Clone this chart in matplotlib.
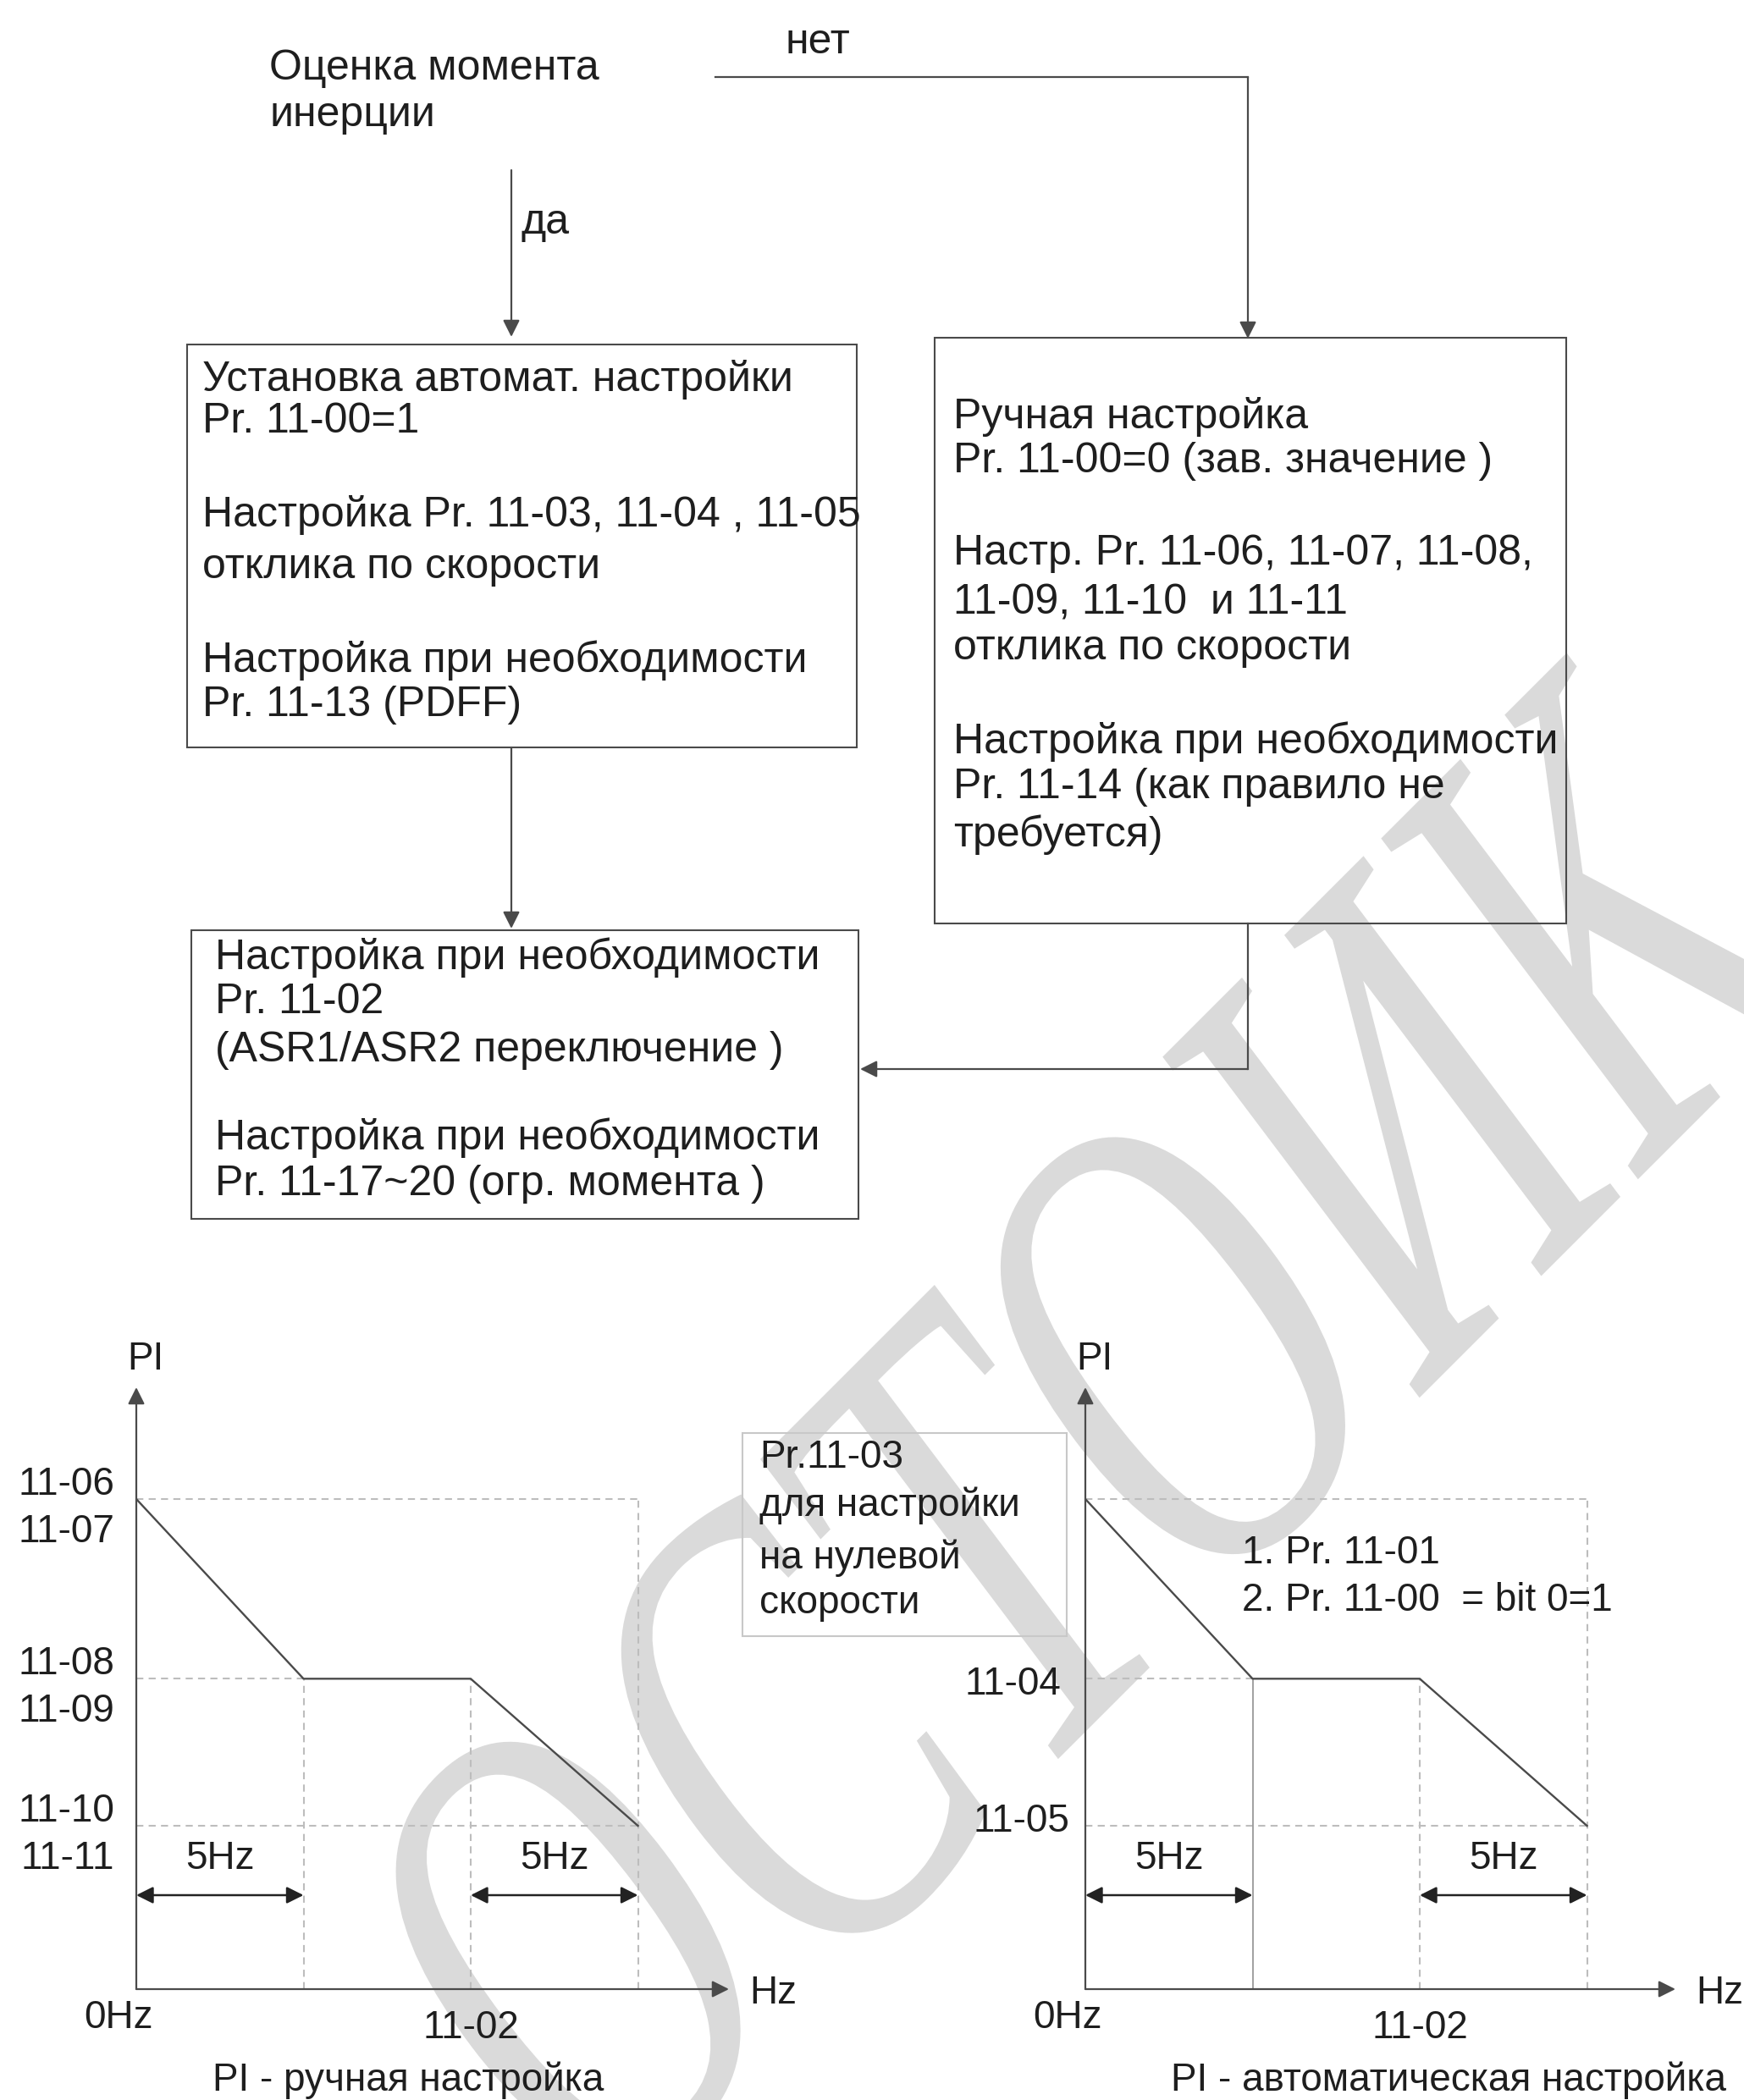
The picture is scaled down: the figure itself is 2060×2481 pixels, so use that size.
import matplotlib
matplotlib.use("Agg")
import matplotlib.pyplot as plt
from matplotlib.patches import Rectangle, PathPatch
from matplotlib.textpath import TextPath
from matplotlib.font_manager import FontProperties
from matplotlib.transforms import Affine2D

plt.rcParams["font.family"] = ["Liberation Sans", "DejaVu Sans"]

# ---- данные блок-схемы ----
start_lines = ["Оценка момента", "инерции"]
yes_label = "да"
no_label = "нет"
auto_box_lines = [
    "Установка автомат. настройки",
    "Pr. 11-00=1",
    "Настройка Pr. 11-03, 11-04 , 11-05",
    "отклика по скорости",
    "Настройка при необходимости",
    "Pr. 11-13 (PDFF)",
]
manual_box_lines = [
    "Ручная настройка",
    "Pr. 11-00=0 (зав. значение )",
    "Настр. Pr. 11-06, 11-07, 11-08,",
    "11-09, 11-10  и 11-11",
    "отклика по скорости",
    "Настройка при необходимости",
    "Pr. 11-14 (как правило не",
    "требуется)",
]
final_box_lines = [
    "Настройка при необходимости",
    "Pr. 11-02",
    "(ASR1/ASR2 переключение )",
    "Настройка при необходимости",
    "Pr. 11-17~20 (огр. момента )",
]

# ---- данные графиков PI ----
freq_points = [0, 5, 10, 15]          # 0Hz, 5Hz, 11-02, 11-02 + 5Hz
manual_pi = [3.0, 1.9, 1.9, 1.0]
auto_pi = [3.0, 1.9, 1.9, 1.0]
manual_levels = [("11-06", "11-07"), ("11-08", "11-09"), ("11-10", "11-11")]
auto_levels = ["11-04", "11-05"]
zero_box_lines = ["Pr.11-03", "для настройки", "на нулевой", "скорости"]
auto_notes = ["1. Pr. 11-01", "2. Pr. 11-00  = bit 0=1"]
manual_title = "PI - ручная настройка"
auto_title = "PI - автоматическая настройка"
watermark = "ОСТОИК"

W, H = 2060, 2481
TXT = "#1e1e1e"
LINE = "#4a4a4a"
GUIDE = "#bdbdbd"
FS_FLOW = 36
FS_CHART = 33

fig = plt.figure(figsize=(W / 100, H / 100), dpi=100)
canvas = fig.add_axes([0, 0, 1, 1])
canvas.set_xlim(0, W)
canvas.set_ylim(H, 0)
canvas.axis("off")

# водяной знак: узкий наклонный текст с засечками (координаты экрана)
wm_path = TextPath((0, 0), watermark, size=1,
                   prop=FontProperties(family="Liberation Serif"))
wm_tr = (Affine2D().scale(770 * 0.65, 770).skew_deg(0, 8)
         .rotate_deg(37).translate(694, -153))
canvas.add_patch(PathPatch(wm_path, transform=wm_tr, fc="#dadada",
                           ec="none", zorder=0))


def arrow(ax, start, end, ms=30):
    ax.annotate("", xy=end, xytext=start,
                arrowprops=dict(arrowstyle="-|>", color=LINE, lw=1.6,
                                mutation_scale=ms, shrinkA=0, shrinkB=0))


def box(x0, y0, x1, y1, lines, ys, tx, fs=FS_FLOW, ec=LINE):
    canvas.add_patch(Rectangle((x0, y0), x1 - x0, y1 - y0, fill=False,
                               ec=ec, lw=1.5, zorder=2))
    for s, y in zip(lines, ys):
        canvas.text(tx, y, s, fontsize=fs, color=TXT, va="center", ha="left", zorder=3)


# начало
for s, y in zip(start_lines, [81, 136]):
    canvas.text(318, y, s, fontsize=FS_FLOW, color=TXT, va="center")
canvas.text(966, 50, no_label, fontsize=FS_FLOW, color=TXT, va="center", ha="center")
canvas.text(615, 263, yes_label, fontsize=FS_FLOW, color=TXT, va="center")

# стрелки
canvas.plot([845, 1474], [91, 91], color=LINE, lw=1.6)
arrow(canvas, (1474, 91), (1474, 400))
arrow(canvas, (604, 201), (604, 398))
arrow(canvas, (604, 883), (604, 1097))
canvas.plot([1474, 1474], [1091, 1263], color=LINE, lw=1.6)
arrow(canvas, (1474, 1263), (1016, 1263))

box(221, 407, 1012, 883, auto_box_lines, [448, 498, 608, 670, 780, 833], 239)
box(1104, 399, 1850, 1091, manual_box_lines,
    [493, 545, 654, 713, 766, 876, 930, 986], 1126)
box(226, 1099, 1014, 1440, final_box_lines, [1131, 1184, 1241, 1344, 1399], 254)
box(877, 1693, 1260, 1933, zero_box_lines, [1722, 1779, 1841, 1894], 897,
    fs=FS_CHART, ec="#c8c8c8")

# ---- графики ----
PX_HZ = 39.5
PX_UNIT = 193.0


def make_chart(x_px, width_px, pi_vals, solid_mid):
    ax = fig.add_axes([x_px / W, 1 - 2350 / H, width_px / W, 711 / H])
    ax.set_xlim(0, width_px / PX_HZ)
    ax.set_ylim(0, 711 / PX_UNIT)
    ax.axis("off")
    ax.patch.set_alpha(0)
    top, mid, low = pi_vals[0], pi_vals[1], pi_vals[3]
    x1, x2, x3 = freq_points[1], freq_points[2], freq_points[3]
    dash = dict(color=GUIDE, lw=1.5, ls=(0, (4, 3)))
    ax.hlines([top, low], 0, x3, **dash)
    ax.hlines(mid, 0, x1, **dash)
    ax.vlines(x3, 0, top, **dash)
    ax.vlines(x2, 0, mid, **dash)
    if solid_mid:
        ax.vlines(x1, 0, mid, color="#9a9a9a", lw=1.3)
    else:
        ax.vlines(x1, 0, mid, **dash)
    ax.plot(freq_points, pi_vals, color=LINE, lw=1.7)
    # оси со стрелками
    for xy in [(1, 0), (0, 1)]:
        ax.annotate("", xy=xy, xytext=(0, 0), xycoords="axes fraction",
                    arrowprops=dict(arrowstyle="-|>", color=LINE, lw=1.6,
                                    mutation_scale=30, shrinkA=0, shrinkB=0))
    # интервалы 5Hz
    ya = 111 / PX_UNIT
    for a, b in [(0, x1), (x2, x3)]:
        ax.annotate("", xy=(b, ya), xytext=(a, ya),
                    arrowprops=dict(arrowstyle="<|-|>", color="#222", lw=1.8,
                                    mutation_scale=30, shrinkA=0, shrinkB=0))
        ax.text((a + b) / 2, 154 / PX_UNIT, "5Hz", fontsize=FS_CHART,
                color=TXT, ha="center", va="center")
    off = dict(textcoords="offset pixels", fontsize=FS_CHART, color=TXT, va="center")
    ax.annotate("PI", (0, 711 / PX_UNIT), xytext=(11, 33), ha="center", **off)
    ax.annotate("Hz", (width_px / PX_HZ, 0), xytext=(52, -5), ha="center", **off)
    ax.annotate("0Hz", (0, 0), xytext=(-21, -34), ha="center", **off)
    ax.annotate("11-02", (x2, 0), xytext=(0, -46), ha="center", **off)
    return ax, off


ax1, off = make_chart(161, 700, manual_pi, False)
for (a, b), lvl in zip(manual_levels, [manual_pi[0], manual_pi[1], manual_pi[3]]):
    ax1.annotate(a, (0, lvl), xytext=(-26, 17), ha="right", **off)
    ax1.annotate(b, (0, lvl), xytext=(-26, -39), ha="right", **off)
ax1.annotate(manual_title, (0, 0), xytext=(321, -108), ha="center", **off)

ax2, off = make_chart(1282, 697, auto_pi, True)
ax2.annotate(auto_levels[0], (0, auto_pi[1]), xytext=(-29, -7), ha="right", **off)
ax2.annotate(auto_levels[1], (0, auto_pi[3]), xytext=(-19, 5), ha="right", **off)
for s, dy in zip(auto_notes, [515, 459]):
    ax2.annotate(s, (0, 0), xytext=(185, dy), ha="left", **off)
ax2.annotate(auto_title, (0, 0), xytext=(429, -108), ha="center", **off)

fig.savefig("out.png", dpi=100)
